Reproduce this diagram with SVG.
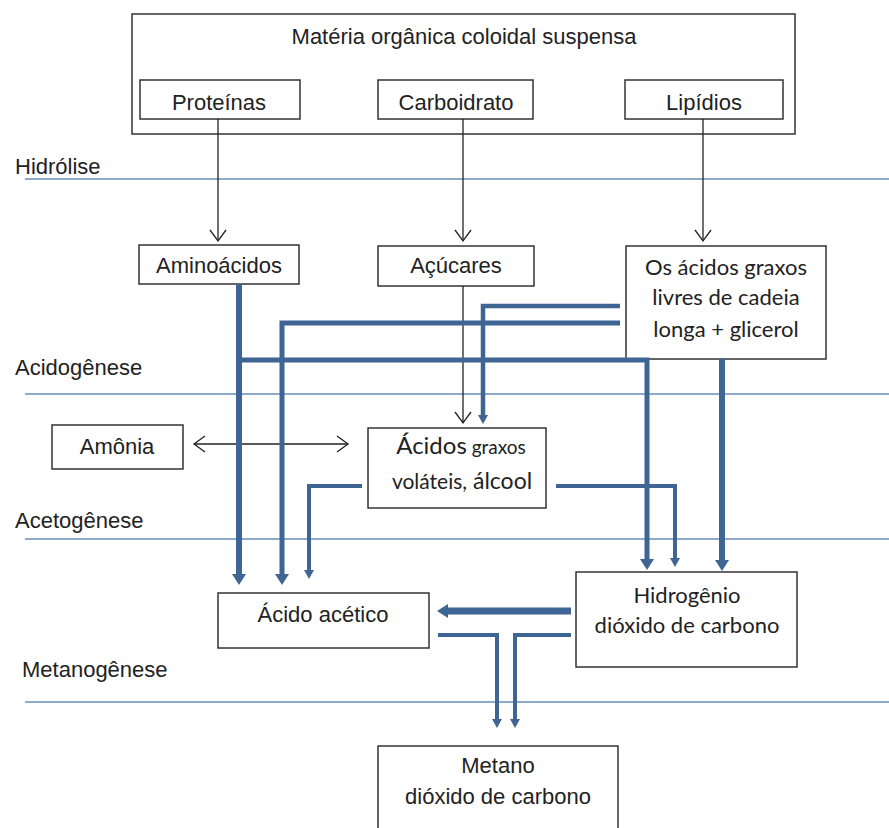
<svg xmlns="http://www.w3.org/2000/svg" width="889" height="828" viewBox="0 0 889 828">
<defs>
<style>
.box{fill:#fff;stroke:#333;stroke-width:1.5}
.a{font-family:"Liberation Sans",Arial,sans-serif;font-size:22px;fill:#222}
.c{font-family:Lato,"Open Sans",sans-serif;font-size:22px;fill:#222}
.m{text-anchor:middle}
.phase{stroke:#8eaacb;stroke-width:2;fill:none}
.thin{stroke:#222;stroke-width:1.3;fill:none}
.blue{stroke:#3f6595;fill:none;stroke-linejoin:miter}
</style>
<marker id="v" markerUnits="userSpaceOnUse" markerWidth="14" markerHeight="20" viewBox="0 0 14 20" refX="12" refY="10" orient="auto-start-reverse">
<path d="M1,2 L12,10 L1,18" fill="none" stroke="#222" stroke-width="1.3"/>
</marker>
<marker id="bh" markerUnits="userSpaceOnUse" markerWidth="12" markerHeight="14" viewBox="0 0 12 14" refX="1" refY="7" orient="auto">
<path d="M0,0 L11,7 L0,14 z" fill="#3f6595"/>
</marker>
<marker id="sh" markerUnits="userSpaceOnUse" markerWidth="10" markerHeight="10" viewBox="0 0 10 10" refX="1" refY="5" orient="auto">
<path d="M0,0 L9,5 L0,10 z" fill="#3f6595"/>
</marker>
</defs>
<rect width="889" height="828" fill="#fff"/>

<g id="phases">
<line class="phase" x1="25" y1="179" x2="889" y2="179"/>
<line class="phase" x1="25" y1="394" x2="889" y2="394"/>
<line class="phase" x1="25" y1="539" x2="889" y2="539"/>
<line class="phase" x1="25" y1="702" x2="889" y2="702"/>
<text class="a" x="15" y="174">Hidrólise</text>
<text class="a" x="15" y="375">Acidogênese</text>
<text class="a" x="15" y="528">Acetogênese</text>
<text class="a" x="22" y="677">Metanogênese</text>
</g>

<g id="materia">
<rect class="box" x="132" y="14" width="663" height="120"/>
<text class="a m" x="464" y="44">Matéria orgânica coloidal suspensa</text>
</g>
<g id="proteinas">
<rect class="box" x="140" y="80" width="160" height="39"/>
<text class="a m" x="219" y="110">Proteínas</text>
</g>
<g id="carboidrato">
<rect class="box" x="378" y="80" width="155" height="39"/>
<text class="a m" x="456" y="110">Carboidrato</text>
</g>
<g id="lipidios">
<rect class="box" x="625" y="80" width="158" height="39"/>
<text class="a m" x="704" y="110">Lipídios</text>
</g>

<g id="aminoacidos">
<rect class="box" x="139" y="245" width="160" height="39"/>
<text class="a m" x="219" y="273">Aminoácidos</text>
</g>
<g id="acucares">
<rect class="box" x="378" y="246" width="156" height="40"/>
<text class="a m" x="456" y="273">Açúcares</text>
</g>
<g id="acidos-graxos-livres">
<rect class="box" x="626" y="246" width="200" height="113"/>
<text class="c m" x="726" y="275">Os ácidos graxos</text>
<text class="c m" x="726" y="305">livres de cadeia</text>
<text class="c m" x="726" y="337">longa + glicerol</text>
</g>

<g id="amonia">
<rect class="box" x="52" y="425" width="131" height="44"/>
<text class="a m" x="117" y="454">Amônia</text>
</g>
<g id="acidos-volateis">
<rect class="box" x="368" y="428" width="178" height="80"/>
<text class="c m" x="461" y="454"><tspan font-size="24">Ácidos</tspan><tspan font-size="19"> graxos</tspan></text>
<text class="c m" x="462" y="489"><tspan font-size="21">voláteis,</tspan><tspan font-size="23"> álcool</tspan></text>
</g>

<g id="acido-acetico">
<rect class="box" x="218" y="593" width="211" height="55"/>
<text class="a m" x="323" y="622">Ácido acético</text>
</g>
<g id="hidrogenio">
<rect class="box" x="576" y="572" width="221" height="95"/>
<text class="c m" x="687" y="603">Hidrogênio</text>
<text class="c m" x="687" y="633">dióxido de carbono</text>
</g>
<g id="metano">
<rect class="box" x="378" y="746" width="240" height="100"/>
<text class="a m" x="498" y="773">Metano</text>
<text class="a m" x="498" y="804">dióxido de carbono</text>
</g>

<g id="connectors">
<path class="thin" d="M218,119 V241" marker-end="url(#v)"/>
<path class="thin" d="M463,119 V241" marker-end="url(#v)"/>
<path class="thin" d="M703,119 V241" marker-end="url(#v)"/>
<path class="thin" d="M463,286 V423" marker-end="url(#v)"/>
<path class="thin" d="M194,444 H348" marker-start="url(#v)" marker-end="url(#v)"/>

<path class="blue" stroke-width="6" d="M239,284 V575" marker-end="url(#bh)"/>
<path class="blue" stroke-width="5" d="M239,360 H647 V560" marker-end="url(#bh)"/>
<path class="blue" stroke-width="5" d="M620,323 H282 V575" marker-end="url(#bh)"/>
<path class="blue" stroke-width="4.5" d="M620,306 H483 V416" marker-end="url(#sh)"/>
<path class="blue" stroke-width="6" d="M722,359 V561" marker-end="url(#bh)"/>
<path class="blue" stroke-width="4" d="M362,486 H309 V571" marker-end="url(#sh)"/>
<path class="blue" stroke-width="4" d="M556,486 H675 V559" marker-end="url(#sh)"/>
<path class="blue" stroke-width="7" d="M571,611 H447" marker-end="url(#bh)"/>
<path class="blue" stroke-width="4" d="M438,635 H497 V720" marker-end="url(#sh)"/>
<path class="blue" stroke-width="4" d="M571,635 H515 V720" marker-end="url(#sh)"/>
</g>
</svg>
